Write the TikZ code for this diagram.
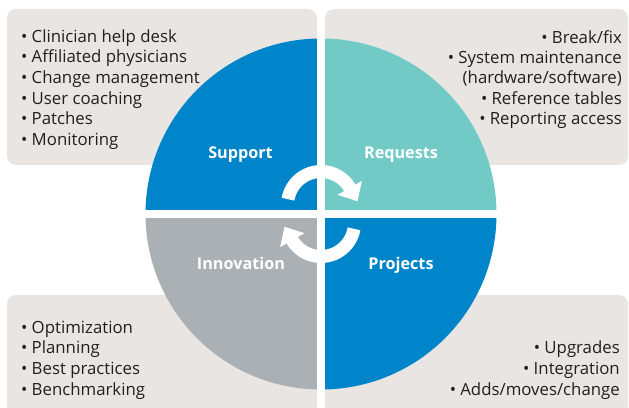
\documentclass[tikz,border=0pt]{standalone}
\usepackage{fontspec}
\setmainfont{Open Sans}
\usetikzlibrary{calc}
\definecolor{boxgray}{HTML}{E8E5E2}
\definecolor{qblue}{HTML}{0085CA}
\definecolor{qteal}{HTML}{72CAC7}
\definecolor{qgray}{HTML}{ABB0B4}
\definecolor{txt}{HTML}{231F20}
\tikzset{
  infobox/.style={fill=boxgray, rounded corners=9pt},
  item/.style={font=\fontsize{16.8}{20}\selectfont, text=txt, inner sep=0pt},
  qlabel/.style={font=\fontsize{16.2}{19}\bfseries\selectfont, text=white, inner sep=0pt, anchor=base},
  cyclearc/.style={draw=white, line width=13pt},
  headfill/.style={fill=white},
}
\begin{document}
\begin{tikzpicture}[x=1pt,y=1pt]
\useasboundingbox (0,0) rectangle (629,407);
% info boxes
\fill[infobox] (7,242) rectangle (317,398);
\fill[infobox] (325,242) rectangle (628,398);
\fill[infobox] (7,-20) rectangle (317,112);
\fill[infobox] (325,-20) rectangle (628,112);
% circle quadrants
\coordinate (C) at (321,193);
\fill[qblue] (C) -- ++(90:175.5) arc[start angle=90, end angle=180, radius=175.5] -- cycle;
\fill[qteal] (C) -- ++(0:175.5) arc[start angle=0, end angle=90, radius=175.5] -- cycle;
\fill[qgray] (C) -- ++(180:175.5) arc[start angle=180, end angle=270, radius=175.5] -- cycle;
\fill[qblue] (C) -- ++(270:175.5) arc[start angle=270, end angle=360, radius=175.5] -- cycle;
% white separators
\fill[white] (317,15) rectangle (325,372);
\fill[white] (142,189) rectangle (500,197);
% quadrant labels
\node[qlabel] (support) at (240.5,248) {Support};
\node[qlabel] (requests) at (401,248) {Requests};
\node[qlabel] (innovation) at (241,137) {Innovation};
\node[qlabel] (projects) at (401,137) {Projects};
% cycle arrows
\coordinate (A) at (321,202);
\coordinate (B) at (321,184);
\draw[cyclearc] (A) ++(170:33.5) arc[start angle=170, end angle=30, radius=33.5];
\begin{scope}[shift={(A)}, rotate=30]
  \fill[headfill] (19.5,0.5) -- (47.5,0.5) -- (33.5,-15) -- cycle;
\end{scope}
\draw[cyclearc] (B) ++(-10:33.5) arc[start angle=-10, end angle=-150, radius=33.5];
\begin{scope}[shift={(B)}, rotate=-150]
  \fill[headfill] (19.5,0.5) -- (47.5,0.5) -- (33.5,-15) -- cycle;
\end{scope}
% top-left list
\foreach \t [count=\i] in {Clinician help desk, Affiliated physicians, Change management, User coaching, Patches, Monitoring}{
  \node[item, anchor=base west] (tl\i) at (21,{407-42.3-(\i-1)*20.6}) {•\hspace{0.25em}\t};
}
% top-right list
\node[item, anchor=base east] (tr1) at (622,{407-43.3}) {•\hspace{0.25em}Break/fix};
\node[item, anchor=base east] (tr2) at (622,{407-63.6}) {•\hspace{0.25em}System maintenance};
\node[item, anchor=base east] (tr3) at (622,{407-84}) {(hardware/software)};
\node[item, anchor=base east] (tr4) at (622,{407-104.3}) {•\hspace{0.25em}Reference tables};
\node[item, anchor=base east] (tr5) at (622,{407-124.6}) {•\hspace{0.25em}Reporting access};
% bottom-left list
\foreach \t [count=\i] in {Optimization, Planning, Best practices, Benchmarking}{
  \node[item, anchor=base west] (bl\i) at (21,{407-333.3-(\i-1)*20.6}) {•\hspace{0.25em}\t};
}
% bottom-right list
\node[item, anchor=base east] (br1) at (620,{407-354}) {•\hspace{0.25em}Upgrades};
\node[item, anchor=base east] (br2) at (620,{407-374.5}) {•\hspace{0.25em}Integration};
\node[item, anchor=base east] (br3) at (620,{407-395}) {•\hspace{0.25em}Adds/moves/change};
\end{tikzpicture}
\end{document}
